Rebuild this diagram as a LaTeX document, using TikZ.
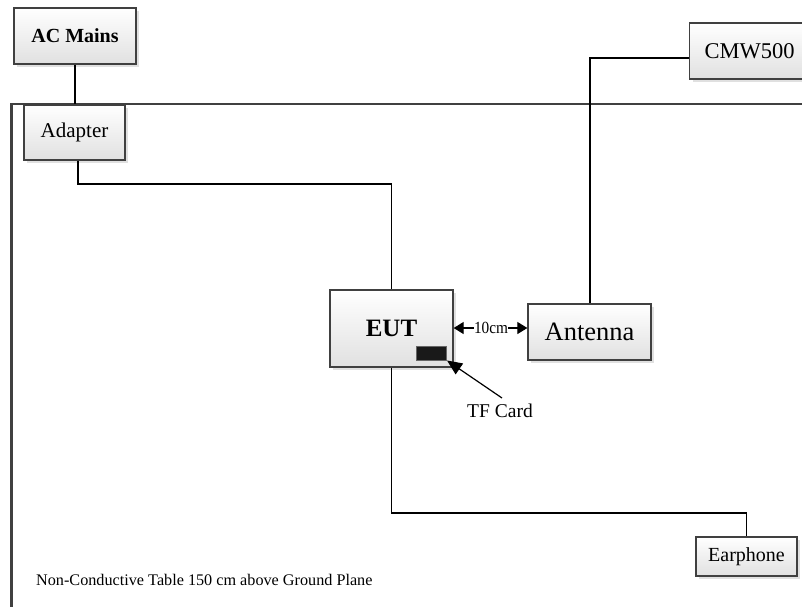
\documentclass[tikz,border=0pt]{standalone}
\usepackage{fontspec}
\setmainfont{Liberation Serif}
\usetikzlibrary{shadows,arrows.meta}
\tikzset{
  box/.style={draw=black!75, line width=1.3pt, top color=white, bottom color=black!12,
    drop shadow={shadow xshift=3pt, shadow yshift=-3pt, fill=black!12, opacity=1},
    inner sep=0pt, align=center},
  wire/.style={draw=black, line width=1.2pt},
  tableedge/.style={draw=black!75, line width=2.6pt},
  fsz/.style={font=\fontsize{#1}{#1}\selectfont}
}
\begin{document}
\begin{tikzpicture}[x=1pt,y=-1pt]
\useasboundingbox (0,0) rectangle (802,606);
\clip (0,0) rectangle (802,606);
% table
\draw[tableedge] (11.5,620) -- (11.5,104) -- (820,104);
% boxes
\node[box, minimum width=122pt, minimum height=56pt, font=\fontsize{20}{20}\selectfont\bfseries] (ac) at (75,36) {AC Mains};
\node[box, minimum width=101pt, minimum height=55pt, fsz=21] (adapter) at (74.5,132.5) {Adapter};
\node[box, minimum width=123pt, minimum height=77pt, font=\fontsize{25}{25}\selectfont\bfseries] (eut) at (391.5,328.5) {EUT};
\node[box, minimum width=123pt, minimum height=56pt, fsz=26.5] (ant) at (589.5,332) {Antenna};
\node[box, minimum width=130pt, minimum height=56pt, anchor=west, fsz=22.5] (cmw) at (689,51) {\hspace*{-5pt}CMW500\hspace*{5pt}};
\node[box, minimum width=101pt, minimum height=39pt, fsz=20] (ear) at (746.5,556.5) {Earphone};
% TF card
\node[draw=black!60, line width=1pt, fill=black!90, minimum width=30pt, minimum height=14pt, inner sep=0pt] (tf) at (431.5,353) {};
\node[fsz=19.5] (tftext) at (500,411) {TF Card};
\coordinate (tfarrow) at (502,398);
\draw[wire, -{Triangle[length=15pt,width=13pt]}] (tfarrow) -- (tf.south east);
% wires
\draw[wire] (ac.south) -- (ac.south |- adapter.north);
\coordinate (a1) at (78,184);
\draw[wire] (adapter.south -| a1) -- (a1) -- (a1 -| eut.north) -- (eut.north);
\coordinate (c1) at (590,58);
\draw[wire] (ant.north -| c1) -- (c1) -- (c1 -| cmw.west);
\coordinate (e1) at (391.5,513);
\draw[wire] (eut.south) -- (e1) -- (e1 -| ear.north) -- (ear.north);
% 10cm
\node[font=\fontsize{17}{17}\selectfont, inner sep=0pt] (dist) at (491,328) {\scalebox{0.9}[1]{10cm}};
\draw[wire, -{Triangle[length=10pt,width=12pt]}] (dist.west) -- (eut.east |- dist.west);
\draw[wire, -{Triangle[length=10pt,width=12pt]}] (dist.east) -- (ant.west |- dist.east);
% caption
\node[fsz=16.2, anchor=west, inner sep=0pt] (cap) at (36,580) {Non-Conductive Table 150 cm above Ground Plane};
\end{tikzpicture}
\end{document}
